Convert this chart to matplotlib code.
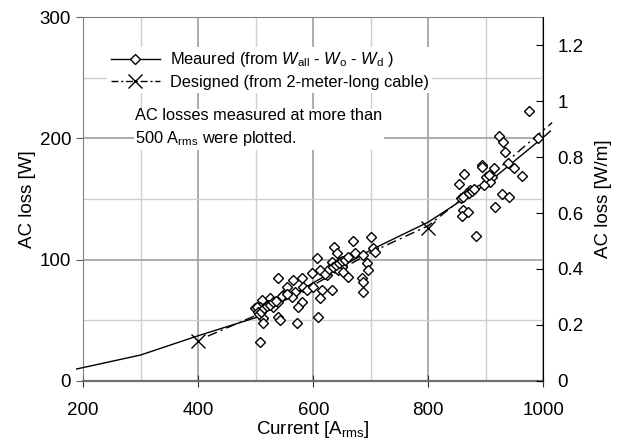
#!/usr/bin/env python3
# -*- coding: utf-8 -*-

import numpy as np
import matplotlib as mpl
mpl.use('Agg')
import matplotlib.pyplot as plt
from matplotlib.ticker import MultipleLocator, FuncFormatter

plt.rcParams['font.family'] = ['Liberation Sans', 'DejaVu Sans']
plt.rcParams['mathtext.fontset'] = 'custom'
plt.rcParams['mathtext.rm'] = 'Liberation Sans'
plt.rcParams['mathtext.it'] = 'Liberation Sans:italic'

# measured AC losses (current [Arms], loss [W])
meas_current = [669.6, 700.3, 704.3, 636.6, 605.9, 640.6, 672.5, 687.0, 707.2, 632.0,
                646.4, 649.3, 643.5, 652.2, 692.8, 695.7, 539.3, 565.4, 579.8, 597.2,
                611.7, 623.3, 660.9, 684.1, 687.0, 687.0, 553.8, 568.3, 582.7, 588.5,
                600.1, 614.6, 632.0, 548.0, 562.5, 611.7, 579.8, 510.3, 524.8, 507.4,
                521.9, 530.6, 539.3, 498.8, 574.0, 513.2, 539.3, 542.2, 513.2, 571.1,
                608.8, 501.7, 504.6, 507.5, 505, 510, 515, 520, 525, 530,
                535, 545, 555, 620, 628, 635, 640, 645, 650, 655,
                660, 975.4, 922.7, 930.2, 933.1, 892.6, 893.7, 914.0, 938.9, 948.8,
                962.1, 861.9, 853.8, 910.0, 907.1, 896.6, 872.3, 866.5, 856.1, 860.7,
                927.3, 940.0, 915.8, 860.7, 857.8, 869.4, 882.2, 991.0, 870, 875,
                880, 900, 905]
meas_loss = [115.7, 118.4, 109.3, 110.2, 101.7, 105.2, 105.2, 103.9, 106.6, 98.4,
             98.4, 94.2, 91.5, 90.1, 97.0, 91.5, 84.6, 83.3, 84.6, 88.7,
             91.5, 87.4, 86.0, 84.6, 81.9, 73.6, 77.8, 73.6, 77.8, 75.0,
             77.8, 75.0, 75.0, 70.9, 69.5, 68.1, 65.4, 66.8, 68.1, 61.3,
             62.7, 61.3, 65.4, 59.9, 60.7, 51.7, 53.0, 50.3, 47.5, 47.5,
             53.0, 61.3, 57.2, 32.4, 55, 57, 60, 62, 63, 65,
             66, 70, 72, 88, 92, 94, 96, 97, 99, 100,
             102, 222.8, 202.2, 197.2, 188.5, 178.0, 176.6, 175.8, 179.4, 175.8,
             169.0, 170.6, 162.1, 168.4, 163.7, 161.5, 157.4, 154.7, 150.5, 151.9,
             154.1, 151.4, 143.1, 140.9, 136.3, 139.0, 119.8, 200.5, 155, 157,
             158, 168, 170]

# fitted line through the measured losses
fit_current = [189, 300, 400, 500, 600, 700, 800, 900, 1000, 1012]
fit_loss = [9.9, 21.4, 37.3, 52.2, 81, 108, 131, 162, 201, 206]

# designed values (2-meter-long cable)
des_current = [400, 800]
des_loss = [33, 126]
des_line_current = [417, 500, 600, 700, 800, 900, 1015]
des_line_loss = [37, 54, 79, 106, 128, 166, 213]

fig = plt.figure(figsize=(6.26, 4.44), dpi=100)
ax = fig.add_axes([0.1326, 0.1419, 0.7356, 0.8198])

ax.set_xlim(200, 1000)
ax.set_ylim(0, 300)
ax.xaxis.set_major_locator(MultipleLocator(200))
ax.xaxis.set_minor_locator(MultipleLocator(100))
ax.yaxis.set_major_locator(MultipleLocator(100))
ax.yaxis.set_minor_locator(MultipleLocator(50))
ax.grid(which='major', color='#a6a6a6', lw=1.3)
ax.grid(which='minor', color='#cfcfcf', lw=1.0)
ax.set_axisbelow(True)

for s in ['left', 'top']:
    ax.spines[s].set_color('#808080')
ax.spines['bottom'].set_color('#707070')
ax.spines['bottom'].set_linewidth(1.6)
ax.spines['right'].set_visible(False)
ax.tick_params(which='major', direction='out', length=5, color='#606060', labelsize=13.5)
ax.tick_params(axis='x', which='major', direction='inout', length=8, color='#303030', pad=11)
ax.tick_params(which='minor', length=0)

ax.plot(fit_current, fit_loss, color='black', lw=1.0, clip_on=False, zorder=3)
ax.plot(des_line_current, des_line_loss, color='black', lw=1.0, ls=(0, (7, 3, 1.5, 3)),
        clip_on=False, zorder=3)
ax.plot(des_current, des_loss, ls='none', marker='x', ms=10, mew=1.0, color='black', zorder=4)
ax.plot(meas_current, meas_loss, ls='none', marker='D', ms=5.5, mfc='white', mec='black',
        mew=1.0, zorder=5)

ax.set_xlabel('Current [A$_{\\mathrm{rms}}$]', fontsize=13.5, labelpad=0)
ax.set_ylabel('AC loss [W]', fontsize=13.5, labelpad=3)

ax2 = ax.twinx()
ax2.set_ylim(0, 1.3)
ax2.yaxis.set_major_locator(MultipleLocator(0.2))
ax2.yaxis.set_major_formatter(FuncFormatter(lambda v, p: '{:g}'.format(round(v, 1)) if v < 1.25 else ''))
ax2.tick_params(direction='in', length=5, color='black', labelsize=13.5, pad=10)
for s in ['left', 'top', 'bottom']:
    ax2.spines[s].set_visible(False)
ax2.spines['right'].set_color('black')
ax2.set_ylabel('AC loss [W/m]', fontsize=13.5, labelpad=8)

# legend
h1, = ax.plot([], [], color='black', lw=1.0, marker='D', ms=5.5, mfc='white', mec='black')
h2, = ax.plot([], [], color='black', lw=1.0, ls=(0, (5, 2, 1.5, 2)), marker='x', ms=10)
leg = ax.legend([h1, h2],
                ['Meaured (from $\\mathit{W}_{\\mathrm{all}}$ - $\\mathit{W}_{\\mathrm{o}}$ - $\\mathit{W}_{\\mathrm{d}}$ )',
                 'Designed (from 2-meter-long cable)'],
                loc='upper left', bbox_to_anchor=(0.035, 0.94), frameon=True, fontsize=11.8,
                handlelength=3.0, handletextpad=0.6, labelspacing=0.35, borderpad=0.2)
leg.get_frame().set_facecolor('white')
leg.get_frame().set_edgecolor('none')
leg.get_frame().set_alpha(1)

ax.text(0.113, 0.75, 'AC losses measured at more than\n500 A$_{\\mathrm{rms}}$ were plotted.',
        transform=ax.transAxes, fontsize=11.8, va='top', ha='left', linespacing=1.45,
        bbox=dict(facecolor='white', edgecolor='none', pad=1))

plt.savefig('out.png', dpi=100)
